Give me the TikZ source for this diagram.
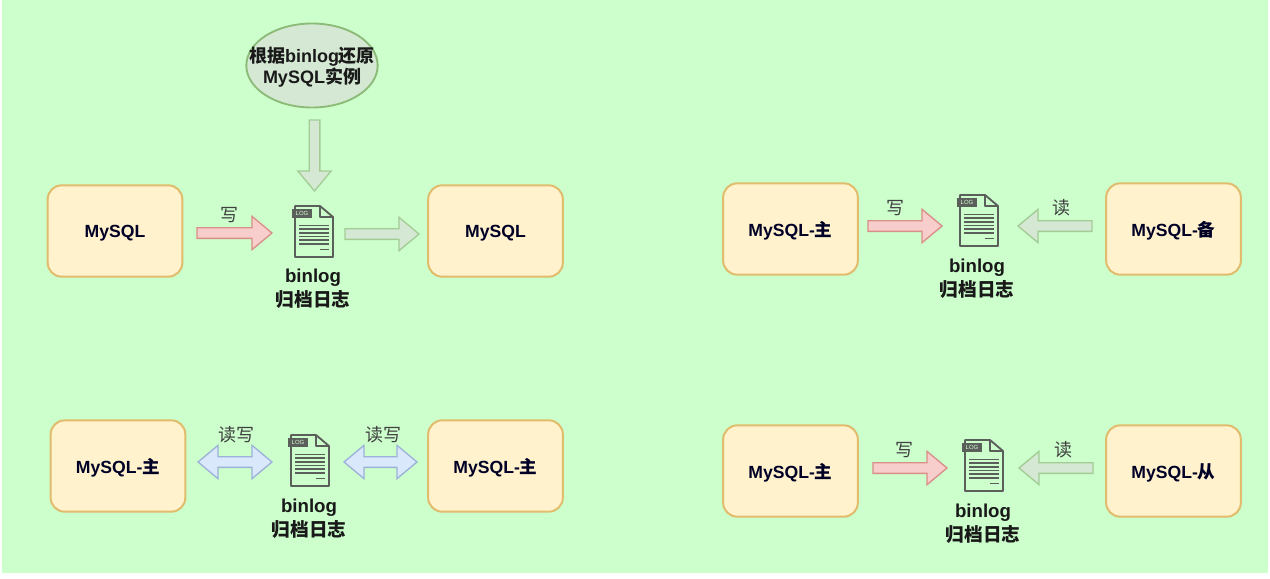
\documentclass[tikz,border=0pt]{standalone}
\usepackage{fontspec}
\setmainfont{Liberation Sans}
\newfontfamily\cjk{Noto Sans CJK SC}
\usetikzlibrary{calc,shapes.geometric}
\definecolor{bgreen}{HTML}{CCFFCC}
\definecolor{boxfill}{HTML}{FFF2CC}
\definecolor{boxline}{HTML}{E0BC6C}
\definecolor{greyfill}{HTML}{D5E8D4}
\definecolor{greyline}{HTML}{A3CC95}
\definecolor{ellline}{HTML}{8CBB78}
\definecolor{pinkfill}{HTML}{F8CECC}
\definecolor{pinkline}{HTML}{D98F88}
\definecolor{bluefill}{HTML}{DAE8FC}
\definecolor{blueline}{HTML}{9DB2D8}
\definecolor{icon}{HTML}{5A5F5A}
\tikzset{
  dbbox/.style={draw=boxline,fill=boxfill,line width=1.5pt,rounded corners=10.5pt,
    minimum width=101pt,minimum height=68.5pt,inner sep=0pt,text depth=0pt,
    font=\fontsize{13.2}{16}\selectfont\bfseries,text=black!85!blue},
  caption/.style={font=\fontsize{14}{18.2}\selectfont\bfseries,align=center,inner sep=0pt,text=black!90},
  oplabel/.style={font=\fontsize{13.5}{16}\cjk,inner sep=0pt,text=black!75},
  greyarrow/.style={draw=greyline,fill=greyfill,line width=1pt,line join=miter},
  pinkarrow/.style={draw=pinkline,fill=pinkfill,line width=1pt,line join=miter},
  bluearrow/.style={draw=blueline,fill=bluefill,line width=1pt,line join=miter},
  logdoc/.pic={
    \draw[icon,line width=1.4pt,fill=bgreen,line join=round]
      (3,0) -- (28,0) -- (41,11) -- (41,51) -- (3,51) -- cycle;
    \draw[icon,line width=1.4pt,line join=round] (28,0) -- (28,11) -- (41,11);
    \fill[icon] (0,3) rectangle (20,12);
    \node[font=\fontsize{4.5}{5}\selectfont,text=bgreen!70!white,inner sep=0pt] at (10,7.5) {LOG};
    \foreach \ly in {19.5,23.2,26.9,30.6,34.3,38}
      \draw[icon,line width=1.3pt] (7,\ly) -- (37,\ly);
    \draw[icon,line width=1.3pt] (28,43.5) -- (37,43.5);
  }
}
% block arrow from coordinate #2 to tip #3
\newcommand{\blockarrow}[3]{%
  \draw[#1]
    ($(#2)!4pt!90:(#3)$)
    -- ($(#3)!15pt!(#2)!4pt!90:(#3)$)
    -- ($(#3)!15pt!(#2)!12.5pt!90:(#3)$)
    -- (#3)
    -- ($(#3)!15pt!(#2)!-12.5pt!90:(#3)$)
    -- ($(#3)!15pt!(#2)!-4pt!90:(#3)$)
    -- ($(#2)!-4pt!90:(#3)$) -- cycle;}
\newcommand{\dblarrow}[3]{%
  \draw[#1]
    (#2)
    -- ($(#2)!15pt!(#3)!12.5pt!90:(#3)$)
    -- ($(#2)!15pt!(#3)!4pt!90:(#3)$)
    -- ($(#3)!15pt!(#2)!4pt!90:(#3)$)
    -- ($(#3)!15pt!(#2)!12.5pt!90:(#3)$)
    -- (#3)
    -- ($(#3)!15pt!(#2)!-12.5pt!90:(#3)$)
    -- ($(#3)!15pt!(#2)!-4pt!90:(#3)$)
    -- ($(#2)!15pt!(#3)!-4pt!90:(#3)$)
    -- ($(#2)!15pt!(#3)!-12.5pt!90:(#3)$)
    -- cycle;}
\begin{document}
\begin{tikzpicture}[x=0.75pt,y=-0.75pt]
\useasboundingbox (0,0) rectangle (1270,578);
\fill[white] (0,0) rectangle (1270,578);
\fill[bgreen] (2,0) rectangle (1268,573);

% top-left panel
\node[ellipse,draw=ellline,fill=greyfill,line width=1.4pt,minimum width=98.5pt,minimum height=63pt,inner sep=0pt,
  label={[align=center,font=\fontsize{13.5}{14.3}\selectfont\bfseries,text=black!90,inner sep=0pt,yshift=-1.2pt]center:{\cjk\bfseries 根据}binlog{\cjk\bfseries 还原}\\MySQL{\cjk\bfseries 实例}}] (restore) at (312,65.5) {};
\node[dbbox] (a1) at (115,231) {MySQL};
\node[dbbox] (a2) at (495.5,231) {MySQL};
\pic at (292,206) {logdoc};
\node[caption] (a3) at (313,289) {binlog\\{\cjk\bfseries 归档日志}};
\node[oplabel] (aw) at (229,215) {写};
\coordinate (a1s) at (197,233); \coordinate (a1t) at (272,233);
\coordinate (a2s) at (345,234); \coordinate (a2t) at (419,234);
\coordinate (rs) at (314.5,120); \coordinate (rt) at (314.5,191);
\blockarrow{pinkarrow}{a1s}{a1t}
\blockarrow{greyarrow}{a2s}{a2t}
\blockarrow{greyarrow}{rs}{rt}

% top-right panel
\node[dbbox] (b1) at (790.5,229) {MySQL-{\cjk\bfseries 主}};
\node[dbbox] (b2) at (1173.5,229) {MySQL-{\cjk\bfseries 备}};
\pic at (957,195) {logdoc};
\node[caption] (b3) at (977,278.5) {binlog\\{\cjk\bfseries 归档日志}};
\node[oplabel] (bw) at (895,208) {写};
\node[oplabel] (br) at (1061,208) {读};
\coordinate (b1s) at (868,226); \coordinate (b1t) at (942,226);
\coordinate (b2s) at (1092,226); \coordinate (b2t) at (1018,226);
\blockarrow{pinkarrow}{b1s}{b1t}
\blockarrow{greyarrow}{b2s}{b2t}

% bottom-left panel
\node[dbbox] (c1) at (118,466) {MySQL-{\cjk\bfseries 主}};
\node[dbbox] (c2) at (495.5,466) {MySQL-{\cjk\bfseries 主}};
\pic at (288,435) {logdoc};
\node[caption] (c3) at (309,518.5) {binlog\\{\cjk\bfseries 归档日志}};
\node[oplabel] (cl) at (236,435) {读写};
\node[oplabel] (cr) at (383,435) {读写};
\coordinate (c1s) at (198,462); \coordinate (c1t) at (272,462);
\coordinate (c2s) at (344,462); \coordinate (c2t) at (417,462);
\dblarrow{bluearrow}{c1s}{c1t}
\dblarrow{bluearrow}{c2s}{c2t}

% bottom-right panel
\node[dbbox] (d1) at (790.5,471) {MySQL-{\cjk\bfseries 主}};
\node[dbbox] (d2) at (1173.5,471) {MySQL-{\cjk\bfseries 从}};
\pic at (962,440) {logdoc};
\node[caption] (d3) at (983,524) {binlog\\{\cjk\bfseries 归档日志}};
\node[oplabel] (dw) at (904,450) {写};
\node[oplabel] (dr) at (1063,450) {读};
\coordinate (d1s) at (873,468); \coordinate (d1t) at (947,468);
\coordinate (d2s) at (1093,468); \coordinate (d2t) at (1019,468);
\blockarrow{pinkarrow}{d1s}{d1t}
\blockarrow{greyarrow}{d2s}{d2t}
\end{tikzpicture}
\end{document}
